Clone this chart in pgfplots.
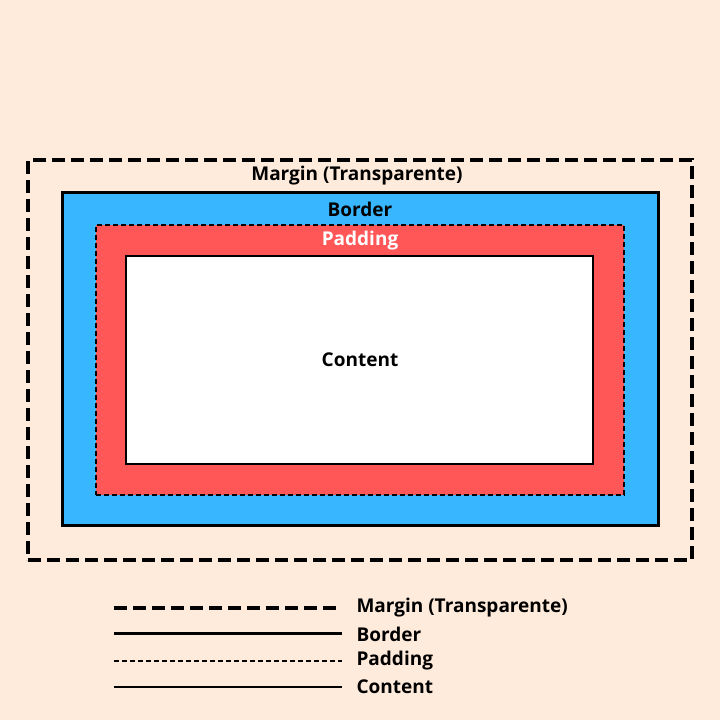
\documentclass[border=0pt]{standalone}
\usepackage{pgfplots}
\pgfplotsset{compat=1.18}
\usepackage{fontspec}
\setmainfont{Open Sans}
\definecolor{bg}{HTML}{FFEBDB}
\definecolor{bblue}{HTML}{38B6FF}
\definecolor{pred}{HTML}{FF5757}
\tikzset{lbl/.style={font=\fontsize{19}{22}\selectfont\bfseries}}
\begin{document}
\begin{tikzpicture}
\begin{axis}[width=720pt,height=720pt,scale only axis,xmin=0,xmax=720,ymin=0,ymax=720,hide axis,clip=false]
\addplot[fill=bg,draw=none] coordinates {(0,0)(720,0)(720,720)(0,720)} -- cycle;
\addplot[draw=black,line width=4pt,dash pattern=on 13pt off 6pt] coordinates {(28,160)(692,160)(692,560)(28,560)} -- cycle;
\addplot[fill=bblue,draw=black,line width=3pt] coordinates {(62,194)(658,194)(658,527)(62,527)} -- cycle;
\addplot[fill=pred,draw=black,line width=1.2pt,dash pattern=on 5pt off 3pt] coordinates {(96,225)(624,225)(624,495)(96,495)} -- cycle;
\addplot[fill=white,draw=black,line width=2.5pt] coordinates {(126,256)(593,256)(593,464)(126,464)} -- cycle;
\node[lbl] at (axis cs:357,544) {Margin (Transparente)};
\node[lbl] at (axis cs:360,511) {Border};
\node[lbl,text=white] at (axis cs:360,479) {Padding};
\node[lbl] at (axis cs:360,360) {Content};
\addplot[line width=4pt,dash pattern=on 13pt off 6pt] coordinates {(114,112)(342,112)};
\addplot[line width=3pt] coordinates {(114,86)(342,86)};
\addplot[line width=1.2pt,dash pattern=on 5pt off 3pt] coordinates {(114,59)(342,59)};
\addplot[line width=2.5pt] coordinates {(114,33)(342,33)};
\node[lbl,anchor=west] at (axis cs:353,112) {Margin (Transparente)};
\node[lbl,anchor=west] at (axis cs:353,86) {Border};
\node[lbl,anchor=west] at (axis cs:353,59) {Padding};
\node[lbl,anchor=west] at (axis cs:353,33) {Content};
\end{axis}
\end{tikzpicture}
\end{document}
